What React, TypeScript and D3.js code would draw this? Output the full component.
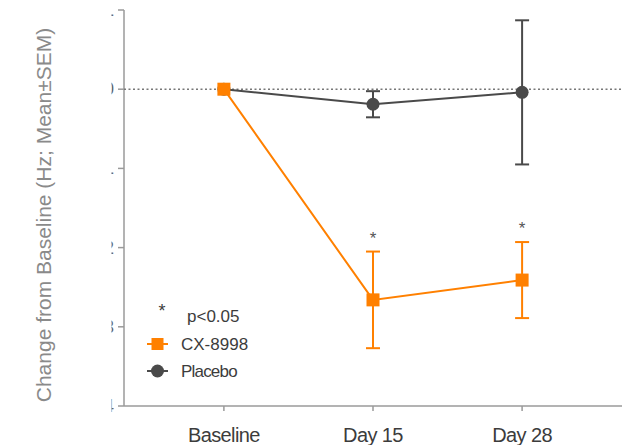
import * as d3 from "d3";

const timepoints = ["Baseline", "Day 15", "Day 28"];
const cxMean = [0, -2.66, -2.41];
const cxSem = [0, 0.61, 0.48];
const placeboMean = [0, -0.19, -0.04];
const placeboSem = [0, 0.165, 0.91];
const sigFlags = [false, true, true];
const yTicks = [1, 0, -1, -2, -3, -4];

const W = 634;
const H = 445;
const M = { left: 124, right: 12, top: 10, bottom: 39 };
const ORANGE = "#ff8000";
const GRAY = "#4a4a4a";
const AXIS = "#9a9a9a";
const TEXT = "#3c3c3c";
const FONT = "Liberation Sans, Arial, sans-serif";

export default function App() {
  const x = d3.scalePoint<string>().domain(timepoints).range([M.left, W - M.right]).padding(0.67);
  const y = d3.scaleLinear().domain([-4, 1]).range([H - M.bottom, M.top]);

  const line = d3
    .line<number>()
    .x((_, i) => x(timepoints[i])!)
    .y((d) => y(d));

  const errBars = (means: number[], sems: number[], color: string) =>
    means.map((m, i) =>
      sems[i] > 0 ? (
        <g key={i} stroke={color} strokeWidth={2}>
          <line x1={x(timepoints[i])} x2={x(timepoints[i])} y1={y(m + sems[i])} y2={y(m - sems[i])} />
          <line x1={x(timepoints[i])! - 7} x2={x(timepoints[i])! + 7} y1={y(m + sems[i])} y2={y(m + sems[i])} />
          <line x1={x(timepoints[i])! - 7} x2={x(timepoints[i])! + 7} y1={y(m - sems[i])} y2={y(m - sems[i])} />
        </g>
      ) : null
    );

  return (
    <svg width={W} height={H} style={{ position: "absolute", left: 0, top: 0 }} fontFamily={FONT}>
      <defs>
        {/* tick labels are cut off at the left edge of the plot in the original */}
        <clipPath id="tickclip">
          <rect x={111.5} y={0} width={20} height={H} />
        </clipPath>
      </defs>
      {/* y axis */}
      <line x1={M.left} x2={M.left} y1={y(1)} y2={y(-4)} stroke={AXIS} strokeWidth={1.5} />
      {yTicks.map((t) => (
        <g key={t}>
          <line x1={M.left - 6} x2={M.left} y1={y(t)} y2={y(t)} stroke={AXIS} strokeWidth={1.5} />
          <text x={114} y={y(t) + 6} textAnchor="end" fontSize={18} fill="#666" clipPath="url(#tickclip)">
            {t}
          </text>
        </g>
      ))}
      {/* x axis */}
      <line x1={M.left} x2={W - M.right} y1={y(-4)} y2={y(-4)} stroke={AXIS} strokeWidth={1.5} />
      {timepoints.map((t) => (
        <g key={t}>
          <line x1={x(t)} x2={x(t)} y1={y(-4)} y2={y(-4) + 5} stroke={AXIS} strokeWidth={1.5} />
          <text x={x(t)} y={H - 3} textAnchor="middle" fontSize={20} fill={TEXT} letterSpacing={-0.6}>
            {t}
          </text>
        </g>
      ))}
      <text
        transform={`translate(51,${(y(1) + y(-4)) / 2 + 7}) rotate(-90)`}
        textAnchor="middle"
        fontSize={21}
        fill="#8a8a8a"
      >
        Change from Baseline (Hz; Mean±SEM)
      </text>
      {/* zero reference */}
      <line
        x1={M.left}
        x2={W - M.right}
        y1={y(0)}
        y2={y(0)}
        stroke="#777"
        strokeWidth={1.5}
        strokeDasharray="2,2.5"
      />
      {/* placebo */}
      {errBars(placeboMean, placeboSem, GRAY)}
      <path d={line(placeboMean)!} fill="none" stroke={GRAY} strokeWidth={2} />
      {placeboMean.map((m, i) => (
        <circle key={i} cx={x(timepoints[i])} cy={y(m)} r={6.5} fill={GRAY} />
      ))}
      {/* CX-8998 */}
      {errBars(cxMean, cxSem, ORANGE)}
      <path d={line(cxMean)!} fill="none" stroke={ORANGE} strokeWidth={2} />
      {cxMean.map((m, i) => (
        <rect key={i} x={x(timepoints[i])! - 6.5} y={y(m) - 6.5} width={13} height={13} fill={ORANGE} />
      ))}
      {/* significance */}
      {cxMean.map((m, i) =>
        sigFlags[i] ? (
          <text key={i} x={x(timepoints[i])} y={y(m + cxSem[i]) - 8} textAnchor="middle" fontSize={17} fill="#555">
            *
          </text>
        ) : null
      )}
      {/* legend */}
      <g fontSize={17} fill={TEXT}>
        <text x={162} y={317} textAnchor="middle" fontSize={18}>*</text>
        <text x={187} y={322}>p&lt;0.05</text>
        <line x1={147} x2={168} y1={344} y2={344} stroke={ORANGE} strokeWidth={2} />
        <rect x={151.5} y={338} width={12} height={12} fill={ORANGE} />
        <text x={181} y={350}>CX-8998</text>
        <line x1={147} x2={168} y1={371} y2={371} stroke={GRAY} strokeWidth={2} />
        <circle cx={157.5} cy={371} r={6.5} fill={GRAY} />
        <text x={181} y={377} letterSpacing={-0.8}>Placebo</text>
      </g>
    </svg>
  );
}
